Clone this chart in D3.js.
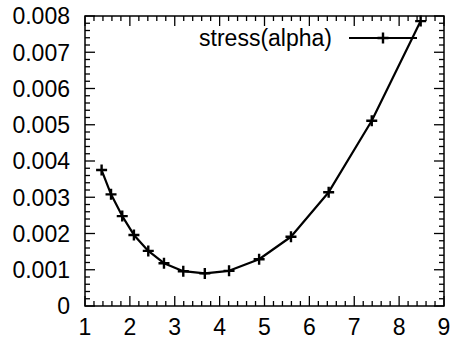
<!DOCTYPE html>
<html>
<head>
<meta charset="utf-8">
<script src="https://cdn.jsdelivr.net/npm/d3@7"></script>
<style>
  html, body { margin: 0; padding: 0; background: #fff; }
  svg { display: block; }
  text { font-family: "Liberation Sans", Arial, Helvetica, sans-serif; fill: #000; }
</style>
</head>
<body>
<svg id="chart"></svg>
<script>
// data
const alpha = [1.37, 1.58, 1.83, 2.09, 2.41, 2.76, 3.19, 3.67, 4.21, 4.88, 5.59, 6.43, 7.39, 8.48]
const stress = [0.00375, 0.00308, 0.00248, 0.00196, 0.00152, 0.00118, 0.00096, 0.00090, 0.00097, 0.00129, 0.00191, 0.00314, 0.00511, 0.00786]
const xTicks = [1, 2, 3, 4, 5, 6, 7, 8, 9]
const yTicks = [0, 0.001, 0.002, 0.003, 0.004, 0.005, 0.006, 0.007, 0.008]
const seriesName = "stress(alpha)"

const width = 453
const height = 340
const margin = { left: 85, right: 9, top: 16, bottom: 34 }
const fontSize = 23
const major = 10
const minor = 5

const svg = d3.select("#chart")
  .attr("width", width)
  .attr("height", height)

const x = d3.scaleLinear().domain([1, 9]).range([margin.left, width - margin.right])
const y = d3.scaleLinear().domain([0, 0.008]).range([height - margin.bottom, margin.top])

const minorX = d3.range(1, 9.001, 0.2)
const minorY = d3.range(0, 0.00801, 0.0002)

// ticks (gnuplot style: inward, mirrored)
const ticks = svg.append("g").attr("stroke", "#000").attr("stroke-width", 1.3)
function tickLen(v, step) {
  return Math.abs(v / step - Math.round(v / step)) < 1e-6 ? major : minor
}
minorX.forEach(v => {
  const len = tickLen(v - 1, 1)
  ticks.append("line").attr("x1", x(v)).attr("x2", x(v))
    .attr("y1", y.range()[0]).attr("y2", y.range()[0] - len)
  ticks.append("line").attr("x1", x(v)).attr("x2", x(v))
    .attr("y1", y.range()[1]).attr("y2", y.range()[1] + len)
})
minorY.forEach(v => {
  const len = tickLen(v, 0.001)
  ticks.append("line").attr("y1", y(v)).attr("y2", y(v))
    .attr("x1", x.range()[0]).attr("x2", x.range()[0] + len)
  ticks.append("line").attr("y1", y(v)).attr("y2", y(v))
    .attr("x1", x.range()[1]).attr("x2", x.range()[1] - len)
})

// frame
svg.append("rect")
  .attr("x", x.range()[0])
  .attr("y", y.range()[1])
  .attr("width", x.range()[1] - x.range()[0])
  .attr("height", y.range()[0] - y.range()[1])
  .attr("fill", "none")
  .attr("stroke", "#000")
  .attr("stroke-width", 1.5)

// tick labels
svg.append("g").selectAll("text")
  .data(xTicks)
  .enter()
  .append("text")
  .attr("x", d => x(d))
  .attr("y", height - 5)
  .attr("text-anchor", "middle")
  .attr("font-size", fontSize)
  .text(d => d)

svg.append("g").selectAll("text")
  .data(yTicks)
  .enter()
  .append("text")
  .attr("x", margin.left - 15)
  .attr("y", d => y(d))
  .attr("dy", "0.36em")
  .attr("text-anchor", "end")
  .attr("font-size", fontSize)
  .text(d => d === 0 ? "0" : d3.format(".3f")(d))

// series
const pts = alpha.map((a, i) => [a, stress[i]])
const line = d3.line().x(d => x(d[0])).y(d => y(d[1]))

svg.append("path")
  .datum(pts)
  .attr("d", line)
  .attr("fill", "none")
  .attr("stroke", "#000")
  .attr("stroke-width", 2.2)
  .attr("stroke-linejoin", "round")

function plus(px, py) {
  const r = 5.5
  return `M ${px - r} ${py} H ${px + r} M ${px} ${py - r} V ${py + r}`
}

svg.append("g").selectAll("path")
  .data(pts)
  .enter()
  .append("path")
  .attr("d", d => plus(x(d[0]), y(d[1])))
  .attr("stroke", "#000")
  .attr("stroke-width", 2.4)

// key
const keyY = 38
const keyX1 = 349
const keyX2 = 417
svg.append("text")
  .attr("x", keyX1 - 17)
  .attr("y", keyY)
  .attr("dy", "0.36em")
  .attr("text-anchor", "end")
  .attr("font-size", fontSize)
  .text(seriesName)
svg.append("line")
  .attr("x1", keyX1).attr("x2", keyX2)
  .attr("y1", keyY).attr("y2", keyY)
  .attr("stroke", "#000")
  .attr("stroke-width", 2.2)
svg.append("path")
  .attr("d", plus((keyX1 + keyX2) / 2, keyY))
  .attr("stroke", "#000")
  .attr("stroke-width", 2.4)
</script>
</body>
</html>
